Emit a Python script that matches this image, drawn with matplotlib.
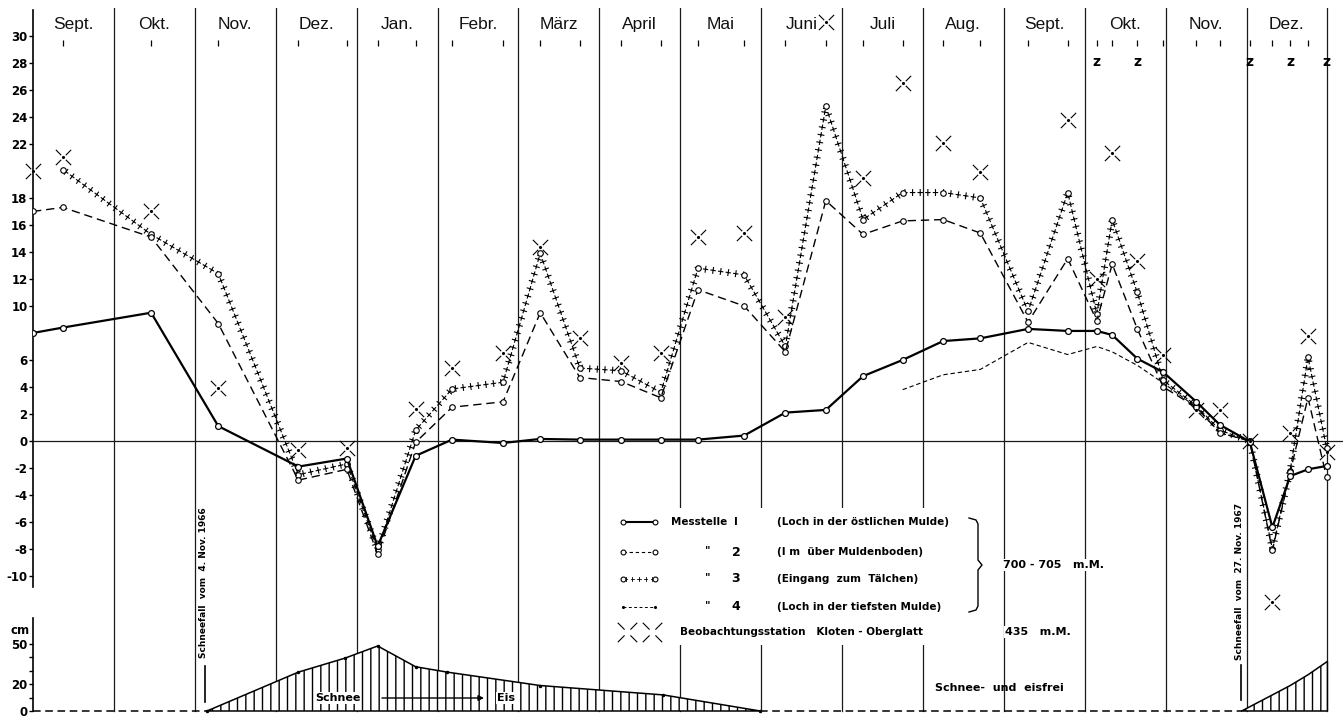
import numpy as np
import matplotlib.pyplot as plt
from matplotlib import patheffects
from matplotlib.path import Path
from matplotlib.patches import Rectangle

# x = months counted from 1 Sept 1966 (0) to the end of Dec 1967 (16)
months = ['Sept.', 'Okt.', 'Nov.', 'Dez.', 'Jan.', 'Febr.', 'März', 'April', 'Mai',
          'Juni', 'Juli', 'Aug.', 'Sept.', 'Okt.', 'Nov.', 'Dez.']

dates = [0.00, 0.37, 1.46, 2.29, 3.28, 3.88, 4.26, 4.73, 5.18, 5.81, 6.27, 6.76,
         7.27, 7.76, 8.22, 8.79, 9.30, 9.80, 10.26, 10.75, 11.25, 11.71, 12.30,
         12.79, 13.15, 13.34, 13.65, 13.97, 14.38, 14.67, 15.04, 15.32, 15.54,
         15.76, 15.99]

# Messstelle 1..4 temperatures (deg C)
m1 = [8.0, 8.4, 9.5, 1.1, -1.9, -1.3, -7.8, -1.1, 0.1, -0.15, 0.15, 0.1, 0.1,
      0.1, 0.1, 0.4, 2.1, 2.3, 4.8, 6.0, 7.4, 7.6, 8.3, 8.15, 8.15, 7.85, 6.1,
      5.1, 2.9, 1.2, -0.05, -6.4, -2.6, -2.1, -1.85]
m2 = [17.0, 17.3, 15.1, 8.7, -2.9, -2.1, -8.4, -0.1, 2.5, 2.9, 9.5, 4.7, 4.4,
      3.2, 11.2, 10.0, 6.6, 17.8, 15.3, 16.3, 16.4, 15.4, 8.8, 13.5, 8.9, 13.1,
      8.3, 4.0, 2.5, 0.6, 0.0, -8.1, -2.3, 3.2, -2.7]
m3 = [np.nan, 20.1, 15.3, 12.4, -2.5, -1.7, -8.1, 0.8, 3.85, 4.35, 13.9, 5.4,
      5.2, 3.6, 12.8, 12.3, 7.0, 24.8, 16.4, 18.4, 18.4, 18.0, 9.6, 18.4, 9.4,
      16.4, 11.0, 4.5, 2.6, 0.8, 0.0, -8.0, -2.2, 6.2, -0.5]
m4 = [np.nan] * 19 + [3.8, 4.9, 5.3, 7.3, 6.4, 7.0, 6.6, 5.6, 4.3, 2.5, 0.6,
                      0.0] + [np.nan] * 4

# Beobachtungsstation Kloten - Oberglatt
kloten_x = [0.00, 0.37, 1.46, 2.29, 3.28, 3.88, 4.73, 5.18, 5.81, 6.27, 6.76,
            7.27, 7.76, 8.22, 8.79, 9.30, 9.80, 10.26, 10.75, 11.25, 11.71,
            12.79, 13.15, 13.34, 13.65, 13.97, 14.38, 14.67, 15.04, 15.32,
            15.54, 15.76, 15.99]
kloten_t = [20.0, 21.0, 17.0, 3.9, -0.7, -0.5, 2.4, 5.4, 6.5, 14.4, 7.6, 5.8,
            6.5, 15.1, 15.4, 9.2, 31.0, 19.5, 26.5, 22.1, 19.9, 23.8, 12.0,
            21.3, 13.3, 6.4, 2.3, 2.3, 0.0, -11.9, 0.6, 7.8, -0.8]

z_dates = [13.15, 13.65, 15.04, 15.54, 15.99]

# snow depth (cm)
snow66_x = [2.15, 3.28, 3.86, 4.26, 4.73, 5.12, 6.27, 7.79, 8.99]
snow66_cm = [0, 29, 39.5, 48.5, 33, 29, 19, 12, 0]
snow67_x = [14.94, 15.32, 15.54, 15.76, 16.0]
snow67_cm = [0, 12, 19, 27, 37]

yticks_t = [30, 28, 26, 24, 22, 18, 16, 14, 12, 10, 6, 4, 2, 0, -2, -4, -6, -8, -10]
yticks_cm = [0, 10, 20, 30, 40, 50]
ylabels_cm = ['0', '', '20', '', '', '50']

W, H = 1343, 720
plt.rcParams['hatch.linewidth'] = 1.0
plt.rcParams['hatch.color'] = 'black'
fig = plt.figure(figsize=(W / 100, H / 100), dpi=100)

# upper panel: temperatures
ax = fig.add_axes([33 / W, 1 - 600 / H, 1 - 33 / W, 592 / H])
ax.set_xlim(0, (W - 33) / 80.9)
ax.set_ylim(-11.78, 32.07)
for s in ['top', 'right', 'bottom']:
    ax.spines[s].set_visible(False)
ax.spines['left'].set_bounds(-10.8, 31.9)
ax.spines['left'].set_linewidth(1.2)
ax.set_xticks([])
ax.set_yticks(yticks_t, labels=[str(v) for v in yticks_t],
              fontweight='bold', fontsize=8.5)
ax.tick_params(axis='y', length=3, width=1, pad=1)

for m in range(1, 17):
    ax.axvline(m, color='#1a1a1a', lw=0.9, zorder=1)
ax.axhline(0, color='#1a1a1a', lw=0.9, zorder=1)

for i, name in enumerate(months):
    ax.text(i + 0.5, 30.85, name, ha='center', va='center', fontsize=12.5,
            family='Liberation Sans', color='#111')
ax.plot(dates[1:-1], np.full(len(dates) - 2, 29.45), ls='none', marker='|',
        ms=5, mew=0.9, color='k')
for z in z_dates:
    ax.text(z, 28.1, 'z', ha='center', va='center', fontsize=10, fontweight='bold')

d = np.array(dates)
a4 = np.array(m4)
a3 = np.array(m3)
ok4 = ~np.isnan(a4)
ok3 = ~np.isnan(a3)

ax.plot(d[ok4], a4[ok4], color='k', lw=0.8, dashes=(4, 2.5), zorder=2)

cross = [patheffects.TickedStroke(spacing=5.5, angle=a, length=ln, linewidth=0.8)
         for a, ln in [(0, 0.28), (90, 0.38), (180, 0.28), (270, 0.38)]]
ax.plot(d[ok3], a3[ok3], color='k', lw=0.8, path_effects=cross, zorder=3)
ax.plot(d[ok3], a3[ok3], ls='none', marker='o', ms=4, mfc='white', mec='k',
        mew=0.8, zorder=3)

ax.plot(dates, m2, color='k', lw=1.0, dashes=(6, 3.5), marker='o', ms=4,
        mfc='white', mec='k', mew=0.8, zorder=4)
ax.plot(dates, m1, color='k', lw=1.6, marker='o', ms=4.2, mfc='white', mec='k',
        mew=0.9, zorder=5)

verts, codes = [], []
for dx, dy in [(1, 1), (1, -1), (-1, 1), (-1, -1)]:
    verts += [(0.3 * dx, 0.3 * dy), (dx, dy)]
    codes += [Path.MOVETO, Path.LINETO]
xmark = Path(verts, codes)
ax.plot(kloten_x, kloten_t, ls='none', marker=xmark, ms=11, mfc='none', mec='k',
        mew=0.8, zorder=6, clip_on=False)
ax.plot(kloten_x, kloten_t, ls='none', marker='.', ms=2.5, color='k', zorder=6,
        clip_on=False)

# lower panel: snow depth
ax2 = fig.add_axes([33 / W, 1 - 716 / H, 1 - 33 / W, 116 / H])
ax2.set_facecolor('none')
ax2.set_xlim(0, (W - 33) / 80.9)
ax2.set_ylim(-3.73, 82.8)
for s in ['top', 'right', 'bottom']:
    ax2.spines[s].set_visible(False)
ax2.spines['left'].set_bounds(0, 69.4)
ax2.spines['left'].set_linewidth(1.2)
ax2.set_xticks([])
ax2.set_yticks(yticks_cm, labels=ylabels_cm, fontweight='bold', fontsize=8.5)
ax2.tick_params(axis='y', length=3, width=1, pad=1)
for m in range(1, 17):
    ax2.axvline(m, ymin=0.04, color='#1a1a1a', lw=0.9, zorder=1)

ax2.fill_between(snow66_x, 0, snow66_cm, facecolor='white', edgecolor='k',
                 hatch='||', lw=1.1, zorder=3)
ax2.fill_between(snow67_x, 0, snow67_cm, facecolor='white', edgecolor='k',
                 hatch='||', lw=1.1, zorder=3)
ax2.plot(snow66_x, snow66_cm, ls='none', marker='.', ms=3, color='k', zorder=4)
ax2.plot([0, snow66_x[0]], [0, 0], color='k', lw=1.1, dashes=(5, 3), zorder=3)
ax2.plot([snow66_x[-1], snow67_x[0]], [0, 0], color='k', lw=1.1, dashes=(5, 3),
         zorder=3)

# overlay for legend and annotations (pixel coordinates)
ov = fig.add_axes([0, 0, 1, 1])
ov.set_xlim(0, W)
ov.set_ylim(H, 0)
ov.axis('off')

ov.text(20, 630, 'cm', ha='center', va='center', fontsize=8.5, fontweight='bold')

ov.add_patch(Rectangle((612, 508), 378, 137, facecolor='white', edgecolor='none'))
bold = dict(fontsize=7.5, fontweight='bold', va='center')
rows = [522, 552, 579, 607]
ov.plot([623, 655], [rows[0]] * 2, color='k', lw=1.5)
ov.plot([623, 655], [rows[0]] * 2, ls='none', marker='o', ms=3.5, mfc='white',
        mec='k', mew=0.8)
ov.plot([623, 655], [rows[1]] * 2, color='k', lw=0.8, dashes=(3, 2.5),
        marker='o', ms=3.5, mfc='white', mec='k', mew=0.8)
ov.plot([623, 655], [rows[2]] * 2, color='k', lw=0.6, path_effects=[
    patheffects.TickedStroke(spacing=4, angle=a, length=0.3, linewidth=0.6)
    for a in (0, 90, 180, 270)])
ov.plot([623, 655], [rows[2]] * 2, ls='none', marker='o', ms=3.5, mfc='white',
        mec='k', mew=0.8)
ov.plot([623, 655], [rows[3]] * 2, color='k', lw=0.7, dashes=(3, 2.5),
        marker='.', ms=2.5)
ov.text(727, rows[0], 'Messtelle', ha='right', **bold)
ov.text(736, rows[0], 'I', ha='center', **bold)
for r, n in zip(rows[1:], ['2', '3', '4']):
    ov.text(708, r - 2, '"', ha='center', **bold)
    ov.text(736, r, n, ha='center', fontsize=9, fontweight='bold', va='center')
descr = ['(Loch in der östlichen Mulde)', '(I m  über Muldenboden)',
         '(Eingang  zum  Tälchen)', '(Loch in der tiefsten Mulde)']
for r, t in zip(rows, descr):
    ov.text(777, r, t, ha='left', **bold)
ov.plot([969, 976, 978, 978, 982, 978, 978, 976, 969],
        [518, 520, 524, 560, 565, 570, 606, 610, 612], color='k', lw=1.0)
ov.text(1003, 565, '700 - 705   m.M.', ha='left', fontsize=8, fontweight='bold',
        va='center', bbox=dict(facecolor='white', edgecolor='none', pad=1))
ov.plot([627, 652], [632, 632], ls='none', marker=xmark, ms=14, mfc='none',
        mec='k', mew=0.8)
ov.text(680, 632, 'Beobachtungsstation   Kloten - Oberglatt', ha='left', **bold)
ov.text(1005, 632, '435   m.M.', ha='left', fontsize=8, fontweight='bold',
        va='center', bbox=dict(facecolor='white', edgecolor='none', pad=1))

ov.text(315, 698, 'Schnee', ha='left', va='center', fontsize=8, fontweight='bold',
        bbox=dict(facecolor='white', edgecolor='none', pad=0.8), zorder=5)
ov.annotate('', xy=(484, 698), xytext=(382, 698),
            arrowprops=dict(arrowstyle='-|>', lw=1.0, color='k', mutation_scale=8,
                            shrinkA=0, shrinkB=0))
ov.text(497, 698, 'Eis', ha='left', va='center', fontsize=8, fontweight='bold',
        bbox=dict(facecolor='white', edgecolor='none', pad=0.8), zorder=5)
ov.text(935, 688, 'Schnee-  und  eisfrei', ha='left', va='center', fontsize=8,
        fontweight='bold')

ov.text(203, 658, 'Schneefall  vom  4. Nov. 1966', rotation=90, ha='center',
        va='bottom', fontsize=6.5, fontweight='bold')
ov.plot([205, 205], [666, 702], color='k', lw=1.2)
ov.text(1239, 660, 'Schneefall  vom  27. Nov. 1967', rotation=90, ha='center',
        va='bottom', fontsize=6.5, fontweight='bold')
ov.plot([1241, 1241], [665, 700], color='k', lw=1.2)

fig.savefig('out.png', dpi=100)
